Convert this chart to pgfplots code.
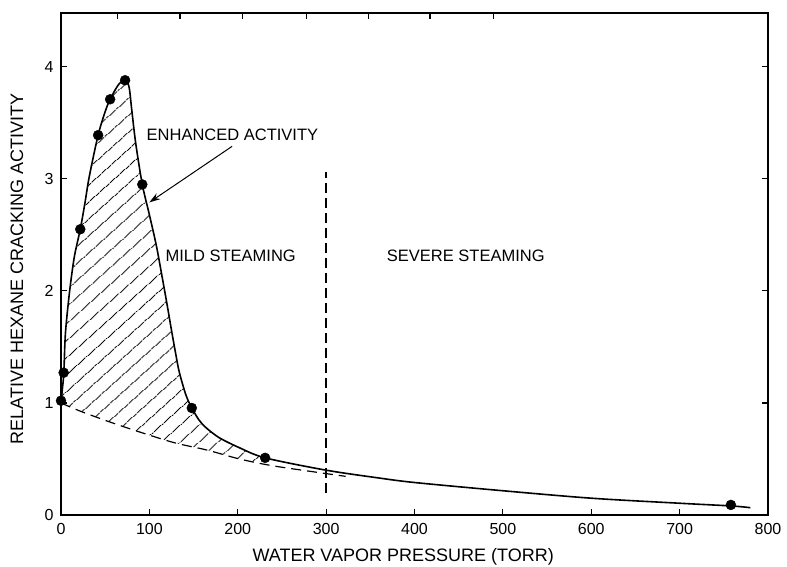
\documentclass[border=0pt]{standalone}
\usepackage{fontspec}
\setmainfont{Liberation Sans}
\usepackage{pgfplots}
\pgfplotsset{compat=1.18}
\usepgfplotslibrary{fillbetween}
\usetikzlibrary{patterns.meta,arrows.meta}

\begin{document}
\begin{tikzpicture}
\begin{axis}[
  scale only axis, width=707pt, height=502pt,
  xmin=0, xmax=800, ymin=0, ymax=4.48,
  xtick={0,100,...,800}, ytick={0,1,2,3,4},
  xtick pos=left, ytick pos=both,
  tick align=inside, major tick length=6pt,
  axis line style={line width=1.5pt},
  every tick/.style={line width=1.2pt, black},
  tick label style={font=\fontsize{16}{16}\selectfont},
  /pgf/number format/assume math mode=true,
  xticklabel style={yshift=-5pt},
  yticklabel style={xshift=-4pt},
  xlabel={WATER VAPOR PRESSURE (TORR)},
  ylabel={RELATIVE HEXANE CRACKING ACTIVITY},
  label style={font=\fontsize{18}{18}\selectfont},
  xlabel style={at={(axis description cs:0.484,-0.0930)}, anchor=base},
  ylabel style={at={(axis description cs:-0.0622,0.49)}, anchor=center},
]
\coordinate (O) at (rel axis cs:0,0);

% upper (measured activity) curve
\addplot[name path=upper, line width=1.6pt, smooth] coordinates {
 (0,1.0) (1.5,1.12) (3.2,1.27) (5,1.62) (9.5,1.98) (15,2.3) (21.8,2.55)
 (27,2.78) (32,3.02) (42,3.39) (50,3.6) (55.6,3.71) (65,3.84) (72.5,3.88)
 (77,3.82) (80,3.62) (84.5,3.32) (92,2.95) (100,2.68) (108,2.40) (115,2.10)
 (120,1.88) (125,1.65) (130,1.43) (134,1.27) (141.4,1.07) (148,0.955)
 (156,0.85) (164,0.78) (179,0.69) (202,0.60) (231,0.51) (300,0.40) (360,0.33)
 (400,0.29) (495,0.22) (600,0.15) (700,0.105) (760,0.08) (780,0.065)
};

% lower dashed baseline
\addplot[name path=lower, line width=1.2pt, dash pattern=on 10pt off 6pt, smooth] coordinates {
 (0,1.0) (24,0.92) (70,0.79) (126,0.65) (165,0.58) (202,0.50) (239,0.44) (295,0.375) (322,0.345)
};

% hatched enhanced-activity region
\addplot[draw=none, pattern={Lines[angle=42,distance=13pt,line width=1pt]}, pattern color=black]
  fill between[of=upper and lower, soft clip={domain=0:231}];

% data points
\addplot[only marks, mark=*, mark size=5pt, black] coordinates {
 (0,1.02) (3,1.27) (21.8,2.55) (42,3.39) (55.6,3.71) (72.5,3.88) (92,2.95)
 (148,0.955) (231,0.51) (758,0.09)
};

% vertical dividing line
\addplot[line width=1.3pt, dash pattern=on 10pt off 5pt] coordinates {(300,0.2) (300,3.06)};

\node[font=\fontsize{16.5}{16.5}\selectfont] at (axis cs:194,3.39) {ENHANCED ACTIVITY};
\node[font=\fontsize{16.5}{16.5}\selectfont] at (axis cs:192,2.31) {MILD STEAMING};
\node[font=\fontsize{16.5}{16.5}\selectfont] at (axis cs:458,2.31) {SEVERE STEAMING};
\draw[line width=1pt, -{Stealth[length=11pt,width=7pt]}] (axis cs:193.6,3.29) -- (axis cs:100,2.79);
\end{axis}

% top ticks (different spacing in the original)
\begin{axis}[
  scale only axis, width=707pt, height=502pt,
  xmin=0, xmax=800, ymin=0, ymax=4.48,
  axis x line*=top, axis y line=none,
  axis line style={line width=1.5pt, -},
  xtick={64,134.7,205.3,277.7,347.7,417.5,489.8}, xticklabels={},
  tick align=inside, major tick length=6pt,
  every tick/.style={line width=1.2pt, black},
]
\end{axis}

\pgfresetboundingbox
\path[use as bounding box] ([shift={(-61pt,-51pt)}]O) rectangle ([shift={(726pt,515pt)}]O);
\end{tikzpicture}
\end{document}
